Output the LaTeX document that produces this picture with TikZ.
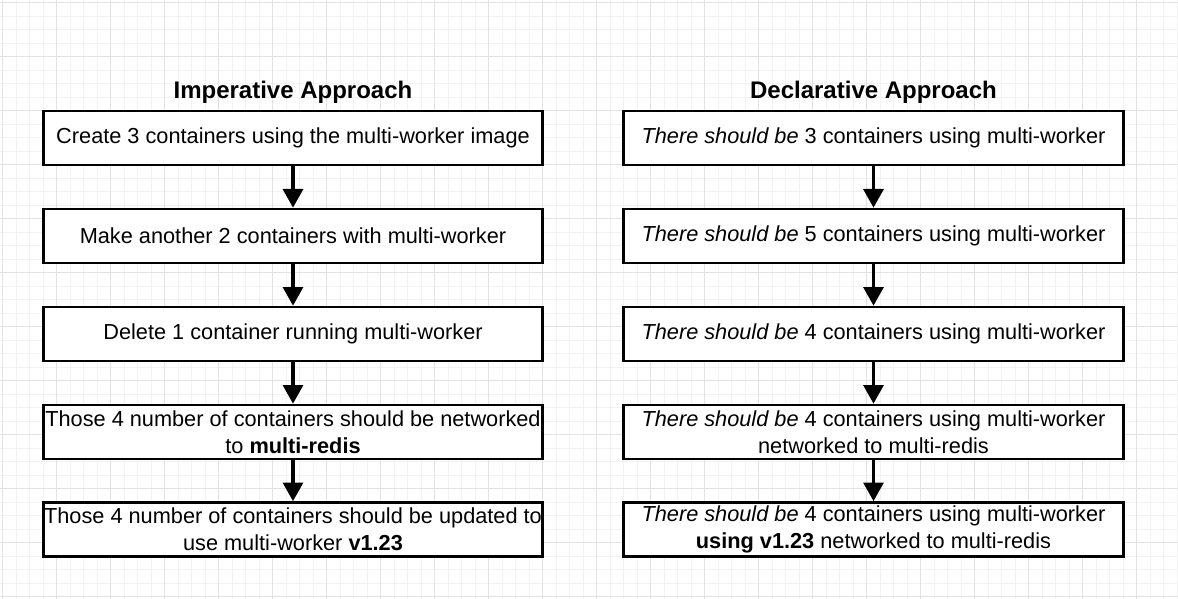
\documentclass[tikz,border=0pt]{standalone}
\usepackage{fontspec}
\setmainfont{Liberation Sans}
\usetikzlibrary{arrows.meta}
\definecolor{gridminor}{RGB}{242,242,242}
\definecolor{gridmajor}{RGB}{226,226,226}
\tikzstyle{stepbox}=[draw=black,line width=2pt,fill=white,minimum width=374.6pt,minimum height=40.5pt,inner sep=0pt,align=center,font=\fontsize{16.3}{20}\selectfont]
\tikzstyle{heading}=[font=\fontsize{18}{22}\selectfont\bfseries,anchor=base]
\tikzstyle{flowedge}=[draw,line width=2.4pt,-{Triangle[length=14pt,width=15pt]}]
\tikzstyle{gridline}=[line width=0.6pt]

\begin{document}
\begin{tikzpicture}[x=0.75pt,y=-0.75pt]
\useasboundingbox (0,0) rectangle (1178,599);

    % Background grid
    \foreach \n in {0,...,87}
        \draw[gridline,gridminor] ({2.7+13.5*\n},0) -- ({2.7+13.5*\n},599);
    \foreach \n in {0,...,44}
        \draw[gridline,gridminor] (0,{2.7+13.5*\n}) -- (1178,{2.7+13.5*\n});
    \foreach \n in {0,4,...,84}
        \draw[gridline,gridmajor] ({2.7+13.5*\n},0) -- ({2.7+13.5*\n},599);
    \foreach \n in {0,4,...,44}
        \draw[gridline,gridmajor] (0,{2.7+13.5*\n}) -- (1178,{2.7+13.5*\n});

    % Imperative side
    \node[heading] (imptitle) at (293,99) {Imperative Approach};
    \foreach \pos/\name/\label in {{(293,138)/imp1/Create 3 containers using the multi-worker image}, {(293,236)/imp2/Make another 2 containers with multi-worker}, {(293,334)/imp3/Delete 1 container running multi-worker}, {(293,432)/imp4/Those 4 number of containers should be networked\\to \textbf{multi-redis}}, {(293,529.5)/imp5/Those 4 number of containers should be updated to\\use multi-worker \textbf{v1.23}}}
        \node[stepbox] (\name) at \pos {\label};

    % Declarative side
    \node[heading] (dectitle) at (873.5,99) {Declarative Approach};
    \foreach \pos/\name/\label in {{(873.5,138)/dec1/\textit{There should be} 3 containers using multi-worker}, {(873.5,236)/dec2/\textit{There should be} 5 containers using multi-worker}, {(873.5,334)/dec3/\textit{There should be} 4 containers using multi-worker}, {(873.5,432)/dec4/\textit{There should be} 4 containers using multi-worker\\networked to multi-redis}, {(873.5,529.5)/dec5/\textit{There should be} 4 containers using multi-worker\\\textbf{using v1.23} networked to multi-redis}}
        \node[stepbox] (\name) at \pos {\label};

    % Connect the steps
    \foreach \source/ \dest in {imp1/imp2, imp2/imp3, imp3/imp4, imp4/imp5, dec1/dec2, dec2/dec3, dec3/dec4, dec4/dec5}
        \path[flowedge] (\source) -- (\dest);

\end{tikzpicture}
\end{document}
